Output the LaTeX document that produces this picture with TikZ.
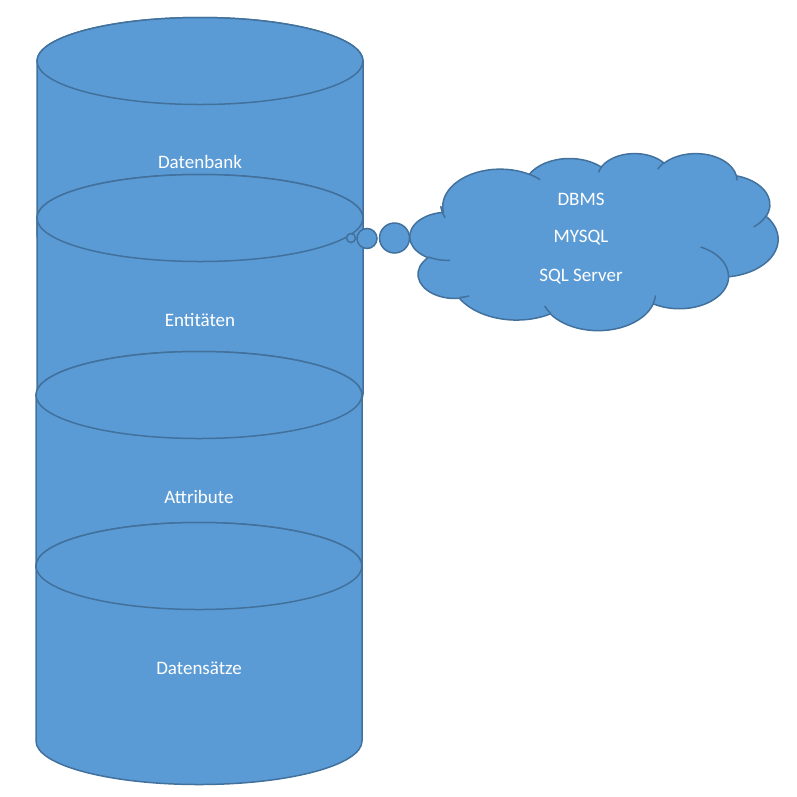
\documentclass[tikz,border=0pt]{standalone}
\usepackage{fontspec}
\setmainfont{Carlito}
\definecolor{dbfill}{RGB}{91,155,213}
\definecolor{dbline}{RGB}{65,113,156}

\begin{document}
\begin{tikzpicture}[x=1pt,y=-1pt,
	db_part/.style={fill=dbfill,draw=dbline,line width=1.5pt},
	cloud_line/.style={draw=dbline,line width=1.5pt},
	db_label/.style={text=white,font=\fontsize{19}{22}\selectfont,inner sep=0pt},
	bubble_node/.style={circle,fill=dbfill,draw=dbline,line width=1.5pt,inner sep=0pt}]
	\useasboundingbox (0,0) rectangle (797,796);
	
	% Datenbank
	\path[db_part] (37,61) -- (37,235) arc[start angle=180,end angle=0,x radius=163,y radius=43.5] -- (363,61) arc[start angle=0,end angle=-180,x radius=163,y radius=43.5] -- cycle;
	\draw[db_part] (200,61) ellipse [x radius=163,y radius=43.5];
	\node[db_label] (datenbank) at (200,162) {Datenbank};
	
	% Entitaeten
	\path[db_part] (37,218) -- (37,394) arc[start angle=180,end angle=0,x radius=163,y radius=43.5] -- (363,218) arc[start angle=0,end angle=-180,x radius=163,y radius=43.5] -- cycle;
	\draw[db_part] (200,218) ellipse [x radius=163,y radius=43.5];
	\node[db_label] (entitaeten) at (200,320) {Entitäten};
	
	% Attribute
	\path[db_part] (36,395) -- (36,566) arc[start angle=180,end angle=0,x radius=163,y radius=43.5] -- (362,395) arc[start angle=0,end angle=-180,x radius=163,y radius=43.5] -- cycle;
	\draw[db_part] (199,395) ellipse [x radius=163,y radius=43.5];
	\node[db_label] (attribute) at (199,497) {Attribute};
	
	% Datensaetze
	\path[db_part] (36,566) -- (36,741) arc[start angle=180,end angle=0,x radius=163,y radius=43.5] -- (362,566) arc[start angle=0,end angle=-180,x radius=163,y radius=43.5] -- cycle;
	\draw[db_part] (199,566) ellipse [x radius=163,y radius=43.5];
	\node[db_label] (datensaetze) at (199,668) {Datensätze};
	
	% callout cloud
	\begin{scope}[shift={(410,153)},xscale=0.85185,yscale=0.40972]
		\path[db_part] (39.00,143.70)
			arc[start angle=-187.747,end angle=-59.636,x radius=67.53,y radius=91.90]
			arc[start angle=-152.024,end angle=-45.438,x radius=53.33,y radius=72.67]
			arc[start angle=-153.489,end angle=-37.339,x radius=43.65,y radius=59.45]
			arc[start angle=-139.710,end angle=-10.212,x radius=48.57,y radius=65.95]
			arc[start angle=-74.766,end angle=23.210,x radius=53.33,y radius=72.73]
			arc[start angle=-37.538,end angle=81.862,x radius=67.75,y radius=92.20]
			arc[start angle=0.460,end angle=121.976,x radius=57.85,y radius=78.67]
			arc[start angle=16.845,end angle=146.232,x radius=67.52,y radius=92.15]
			arc[start angle=58.985,end angle=150.197,x radius=77.20,y radius=105.43]
			arc[start angle=83.306,end angle=223.126,x radius=43.60,y radius=59.18]
			arc[start angle=120.357,end angle=264.112,x radius=43.45,y radius=59.45]
			-- cycle;
		\draw[cloud_line] (46.93,261.77) arc[start angle=85.546,end angle=120.357,x radius=43.45,y radius=59.45]
			(69.28,348.99) arc[start angle=68.237,end angle=83.306,x radius=43.60,y radius=59.18]
			(164.78,390.90) arc[start angle=146.232,end angle=158.473,x radius=67.52,y radius=92.15]
			(288.27,347.51) arc[start angle=4.738,end angle=16.845,x radius=67.52,y radius=92.15]
			(341.29,229.54) arc[start angle=-64.028,end angle=0.460,x radius=57.85,y radius=78.67]
			(417.98,153.54) arc[start angle=23.210,end angle=49.642,x radius=53.33,y radius=72.73]
			(383.24,54.26) arc[start angle=-10.212,end angle=0.821,x radius=48.57,y radius=65.95]
			(290.78,39.52) arc[start angle=-156.288,end angle=-139.710,x radius=48.57,y radius=65.95]
			(221.41,47.20) arc[start angle=-167.726,end angle=-153.489,x radius=43.65,y radius=59.45]
			(140.00,51.92) arc[start angle=-59.636,end angle=-45.719,x radius=67.53,y radius=91.90]
			(41.27,157.89) arc[start angle=157.010,end angle=175.154,x radius=67.53,y radius=91.90];
	\end{scope}
	\node[bubble_node,minimum size=9pt] (bubble_a) at (351,238) {};
	\node[bubble_node,minimum size=20pt] (bubble_b) at (367,238.5) {};
	\node[bubble_node,minimum size=30pt] (bubble_c) at (394.5,238) {};
	
	\node[db_label] (dbms) at (581,199) {DBMS};
	\node[db_label] (mysql) at (581,238) {MYSQL};
	\node[db_label] (sqlserver) at (581,277) {SQL Server};
\end{tikzpicture}
\end{document}
